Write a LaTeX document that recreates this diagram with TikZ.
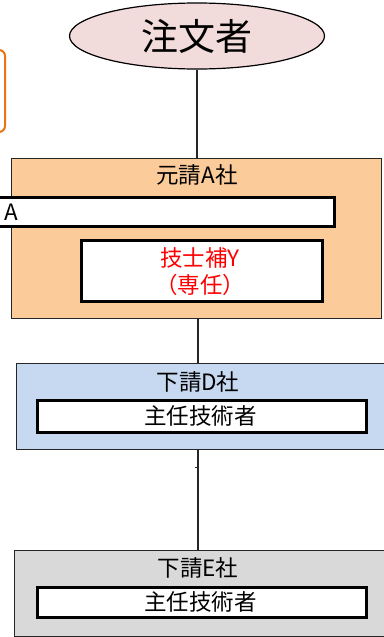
\documentclass[tikz,border=0pt]{standalone}
\usepackage{fontspec}
\setmainfont{Noto Sans CJK JP}
\usetikzlibrary{shapes.geometric}
\definecolor{pinkfill}{HTML}{F2DCDB}
\definecolor{peach}{HTML}{FBCB9A}
\definecolor{bluefill}{HTML}{C6D9F1}
\definecolor{grayfill}{HTML}{D9D9D9}
\definecolor{orangeline}{HTML}{E87511}
\definecolor{redtext}{HTML}{FF0000}
\tikzset{
  x=1pt,y=-1pt,
  outerbox/.style={draw=black!85,line width=1pt,rectangle,inner sep=0pt},
  innerbox/.style={draw=black,fill=white,line width=3pt,rectangle,inner sep=0pt},
  title/.style={font=\fontsize{22.5}{26}\selectfont,inner sep=0pt},
  conn/.style={draw=black!85,line width=1.2pt},
}
\begin{document}
\begin{tikzpicture}
\useasboundingbox (0,0) rectangle (383,637);
% orange box (mostly off-page)
\draw[orangeline,line width=2pt,rounded corners=6pt] (-60,50) rectangle (5,132);
% ellipse
\node[ellipse,draw=black,line width=1.2pt,fill=pinkfill,minimum width=255pt,minimum height=66pt,inner sep=0pt,font=\fontsize{37}{42}\selectfont] (orderer) at (197,36) {注文者};
% A company
\node[outerbox,fill=peach,minimum width=370pt,minimum height=160pt] (abox) at (196,238) {};
\node[title] (atitle) at (197,175) {元請A社};
\node[innerbox,minimum width=364pt,minimum height=29pt] (acut) at (152,212) {};
\node[title] (acuttext) at (11,212) {A};
\node[innerbox,minimum width=241pt,minimum height=61pt] (ybox) at (201.5,270.5) {};
\node[title,text=redtext] (y1) at (200,258) {技士補Y};
\node[title,text=redtext] (y2) at (200,285) {（専任）};
% D company
\node[outerbox,fill=bluefill,minimum width=379pt,minimum height=86pt] (dbox) at (205.5,406) {};
\node[title] (dtitle) at (198,382) {下請D社};
\node[innerbox,minimum width=329pt,minimum height=32pt] (dinner) at (201.5,416) {};
\node[title] (dtext) at (200.5,416) {主任技術者};
% E company
\node[outerbox,fill=grayfill,minimum width=381pt,minimum height=86pt] (ebox) at (204.5,593) {};
\node[title] (etitle) at (198,568) {下請E社};
\node[innerbox,minimum width=329pt,minimum height=30pt] (einner) at (201.5,602) {};
\node[title] (etext) at (200.5,602) {主任技術者};
% connectors
\coordinate (c1) at (197,0);
\draw[conn] (orderer.south -| c1) -- (abox.north -| c1);
\coordinate (c2) at (198,0);
\draw[conn] (abox.south -| c2) -- (dbox.north -| c2);
\draw[conn] (dbox.south -| c2) -- (ebox.north -| c2);
\coordinate (tick) at (198,467);
\draw[conn,line width=0.8pt] (tick) -- ++(-3,0);
\end{tikzpicture}
\end{document}
